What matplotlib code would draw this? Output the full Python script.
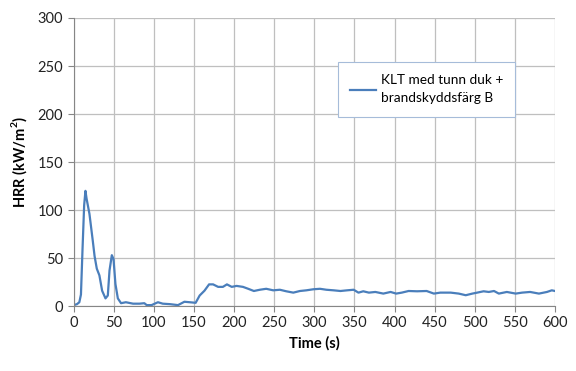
import matplotlib.pyplot as plt

# HRR curve
time_s = [0, 4, 7, 9, 11, 13, 14.6, 16, 19.6, 23.75, 26, 28.75, 32, 35.4, 39.6,
          42.5, 44.6, 47.5, 49.6, 52, 55, 59, 65, 74, 82, 88, 91, 97, 105, 111,
          120, 130, 138, 144.6, 152, 157, 163, 168.75, 173.75, 180, 186, 191,
          197, 203, 211, 217.5, 224.6, 232, 240, 248.75, 257, 265, 273.75, 282,
          290, 298.75, 307, 315, 324, 332.5, 340.8, 349, 355, 361, 368, 376,
          386, 395, 402, 409, 417.5, 428, 440, 449, 457, 470, 480, 488.75, 497,
          503, 511, 517.5, 524, 530, 540, 551, 559, 569, 580, 590, 596, 600]
hrr = [1, 2, 4, 12, 60, 105, 120, 112, 96, 68, 52, 39, 32, 16, 8,
       11, 37, 53, 49, 23, 8, 3, 4, 2.5, 2.5, 3, 1, 1, 4, 2.5,
       2, 1, 4.5, 4, 3.4, 11, 16, 22.6, 22.6, 20, 20, 22.6,
       20, 21, 20, 18, 15.7, 17, 18, 16.4, 17, 15.4, 14, 15.7,
       16.4, 17.5, 18, 17, 16.4, 15.7, 16.4, 17, 14, 15.4, 14, 14.7,
       13, 14.7, 13, 14, 15.7, 15.4, 15.7, 13, 14, 14, 13, 11.3, 13,
       14, 15.4, 14.7, 15.7, 13, 14.7, 13, 14, 14.7, 13, 14.7, 16.4, 15.7]

series_label = "KLT med tunn duk +\nbrandskyddsfärg B"
x_ticks = list(range(0, 601, 50))
y_ticks = list(range(0, 301, 50))

plt.rcParams['font.family'] = ['Lato', 'DejaVu Sans']

fig = plt.figure(figsize=(5.76, 3.71), dpi=100)
ax = fig.add_axes([0.128, 0.175, 0.8355, 0.7765])

ax.plot(time_s, hrr, color='#4a7ebb', lw=1.6, label=series_label)

ax.set_xlim(0, 600)
ax.set_ylim(0, 300)
ax.set_xticks(x_ticks)
ax.set_yticks(y_ticks)
ax.grid(True, color='#bfbfbf', lw=0.9)
ax.set_axisbelow(True)
for s in ['top', 'right']:
    ax.spines[s].set_visible(False)
for s in ['left', 'bottom']:
    ax.spines[s].set_color('#868686')
ax.tick_params(colors='#868686', labelcolor='#222222', labelsize=10.5, length=4)

ax.set_xlabel('Time (s)', fontsize=10.5, fontweight='bold', labelpad=4)
ax.set_ylabel('HRR (kW/m$^\\mathregular{2}$)', fontsize=10.5, fontweight='bold', labelpad=6)

leg = ax.legend(loc='upper left', bbox_to_anchor=(0.549, 0.847), borderaxespad=0,
                fontsize=9.8, fancybox=False, framealpha=1, edgecolor='#a6bcd9',
                handlelength=1.9, borderpad=0.9, handletextpad=0.35)
leg.get_frame().set_linewidth(0.8)
for t in leg.get_texts():
    t.set_linespacing(1.6)

plt.savefig('out.png', dpi=100)
